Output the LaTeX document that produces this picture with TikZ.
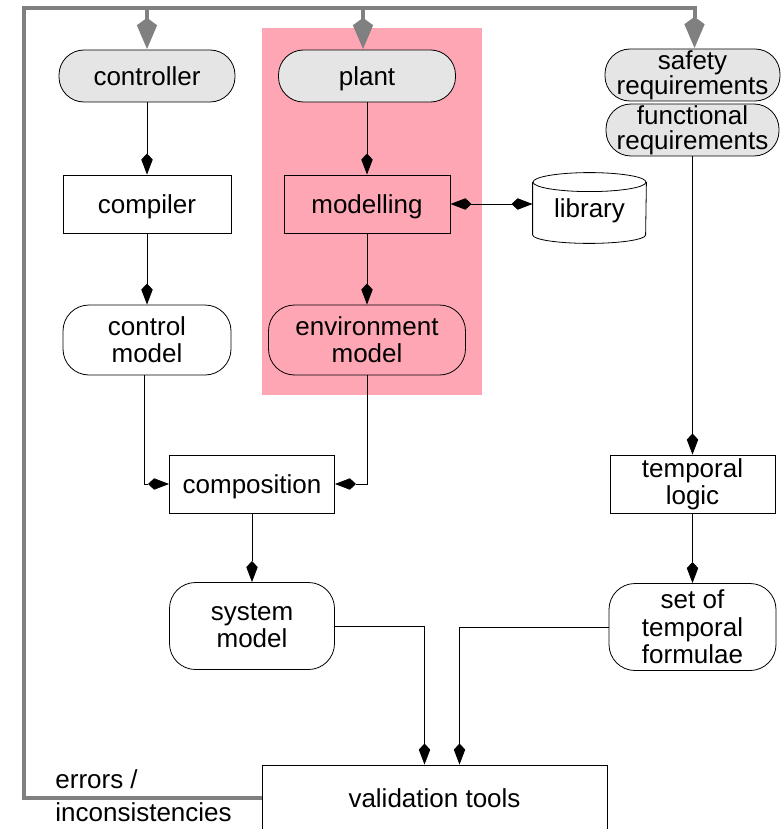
\documentclass[tikz,border=0pt]{standalone}
\usepackage{fontspec}
\setmainfont{Liberation Sans}
\usetikzlibrary{arrows.meta,calc}
\definecolor{pinkbg}{RGB}{255,166,181}
\definecolor{reqgray}{RGB}{229,229,229}
\definecolor{fbgray}{RGB}{128,128,128}
\newcommand{\tightlines}[1]{\fontsize{26}{#1}\selectfont\lineskiplimit=-30pt\relax}

\begin{document}
\begin{tikzpicture}[x=1pt,y=-1pt,
  every node/.style={font=\fontsize{26}{27}\selectfont, inner sep=0pt, align=center, line width=0.8pt},
  oneline/.style={text height=22pt, text depth=3pt},
  stadium/.style={draw, fill=reqgray, rounded corners=25pt, minimum height=52},
  box/.style={draw, rectangle, minimum height=58},
  rbox/.style={draw, rounded corners=26pt},
  tip/.tip={Stealth[length=15pt,width=11pt,inset=-6pt]},
  bigtip/.tip={Stealth[length=24pt,width=18pt,inset=-8pt]},
  flow/.style={line width=0.8pt, -tip},
  biflow/.style={line width=0.8pt, tip-tip},
  fb/.style={draw=fbgray, line width=4pt, -bigtip}
]
\useasboundingbox (0,0) rectangle (782,829);
\clip (0,0) rectangle (782,829);

% shaded area grouping the plant modelling chain
\fill[pinkbg] (262,28) rectangle (482,395);

% requirement and source nodes
\node[stadium, oneline, minimum width=176] (controller) at (147,76) {controller};
\node[stadium, oneline, minimum width=177] (plant) at (367,76) {plant};
\node[stadium, minimum width=175, font=\tightlines{24.6}] (safety) at (692.5,75) {safety\\requirements};
\node[stadium, minimum width=173, font=\tightlines{24.6}] (functional) at (692.5,130) {functional\\requirements};

% processing steps
\node[box, oneline, minimum width=168] (compiler) at (147,204) {compiler};
\node[box, oneline, minimum width=166, fill=pinkbg] (modelling) at (367,204) {modelling};
\node[oneline, minimum width=113, minimum height=70] (library) at (589.5,208) {library};
\node[rbox, minimum width=168, minimum height=70] (control) at (147,340) {control\\model};
\node[rbox, fill=pinkbg, minimum width=197, minimum height=70] (env) at (367,340) {environment\\model};
\node[box, oneline, minimum width=165] (composition) at (252,484) {composition};
\node[box, minimum width=165] (tlogic) at (692.5,484) {temporal\\logic};
\node[rbox, minimum width=165, minimum height=87] (system) at (252,626) {system\\model};
\node[rbox, minimum width=167, minimum height=87, font=\fontsize{26}{27.5}\selectfont] (formulae) at (692.5,627) {set of\\temporal\\formulae};
\node[draw, oneline, minimum width=345, minimum height=66] (validation) at (434.5,798) {validation tools};
\node[anchor=west, align=left, font=\fontsize{26}{33}\selectfont] (errors) at (55,796) {errors /\\inconsistencies};

% cylinder outline of the library store
\draw[line width=0.8pt] ($(library.north)+(0,9.5)$) ellipse [x radius=56.5pt, y radius=9.5pt];
\draw[line width=0.8pt] ($(library.north west)+(0,9.5)$) -- ($(library.south west)+(0,-8.5)$)
  arc[start angle=180, end angle=360, x radius=56.5pt, y radius=8.5pt] -- ($(library.north east)+(0,9.5)$);

% data flow
\draw[flow] (controller.south) -- (compiler.north);
\draw[flow] (compiler.south) -- (control.north);
\draw[flow] (plant.south) -- (modelling.north);
\draw[flow] (modelling.south) -- (env.north);
\draw[biflow] (modelling.east) -- (modelling.east -| library.west);
\draw[flow] ([xshift=-3pt]control.south) |- (composition.west);
\draw[flow] (env.south) |- (composition.east);
\draw[flow] (composition.south) -- (system.north);
\draw[flow] (functional.south) -- (tlogic.north);
\draw[flow] (tlogic.south) -- (formulae.north);
\draw[flow] (system.east) -| ([xshift=-10pt]validation.north);
\draw[flow] (formulae.west) -| ([xshift=25pt]validation.north);

% feedback of errors to the inputs
\coordinate (fbL) at (24,8);
\draw[fb] (validation.west) -| (fbL) -| ([xshift=2pt]safety.north);
\draw[fb] (controller.north |- fbL) -- (controller.north);
\draw[fb] ([xshift=-4pt]plant.north |- fbL) -- ([xshift=-4pt]plant.north);
\end{tikzpicture}
\end{document}
